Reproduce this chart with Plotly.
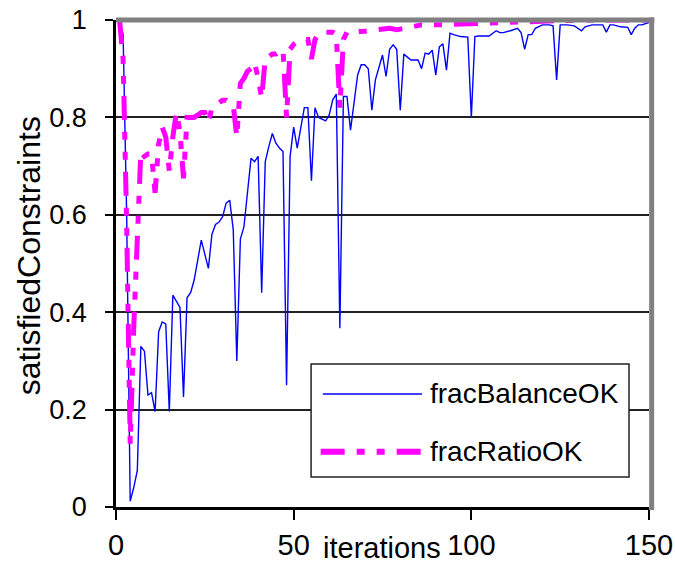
import plotly.graph_objects as go

# fracBalanceOK
bal_iter = [1,2,3,4,5,6,7,8,9,10,11,12,13,14,15,16,18,19,20,21,22,24,26,27,28,29,30,31,32,33,34,35,36,38,39,40,
            41,42,43,44,45,46,47,48,49,50,51,52,53,54,55,56,57,59,60,61,62,63,64,65,66,68,69,70,71,72,73,75,76,77,
            78,79,80,81,83,85,86,87,88,89,90,91,92,93,94,95,97,99,100,101,102,105,107,108,109,111,113,114,115,116,
            117,118,120,122,123,124,125,127,129,131,132,134,136,137,138,139,140,142,144,145,146,147,148,150]
bal_val = [1.0,0.97,0.6,0.012,0.04,0.075,0.33,0.32,0.23,0.235,0.196,0.36,0.38,0.376,0.196,0.435,0.41,0.226,0.43,0.44,
           0.466,0.548,0.49,0.56,0.58,0.585,0.596,0.624,0.63,0.569,0.30,0.55,0.575,0.716,0.709,0.72,
           0.44,0.709,0.74,0.767,0.747,0.737,0.73,0.25,0.72,0.78,0.737,0.778,0.82,0.82,0.67,0.82,0.80,0.793,0.805,0.836,
           0.848,0.367,0.843,0.843,0.774,0.887,0.908,0.908,0.90,0.815,0.877,0.928,0.884,0.94,
           0.949,0.94,0.815,0.93,0.918,0.918,0.90,0.932,0.93,0.938,0.887,0.945,0.951,0.897,0.973,0.97,0.966,0.965,0.80,0.966,0.967,
           0.967,0.978,0.974,0.974,0.978,0.983,0.974,0.94,0.97,
           0.97,0.983,0.99,0.99,0.988,0.877,0.99,0.99,0.988,0.978,0.986,0.99,0.99,0.99,0.975,0.99,0.99,0.986,0.985,0.97,0.983,0.99,0.99,0.995]

# fracRatioOK
rat_iter = [1,2,3,4,5,6,7,8,9,10,11,12,13,14,15,16,17,18,19,20,21,22,23,24,25,26,27,28,29,30,31,32,33,34,35,36,37,38,
            39,40,41,42,43,44,45,46,47,48,49,50,51,52,53,54,55,56,57,58,59,60,61,62,63,64,65,70,73,77,79,82,86,90,
            100,110,120,130,150]
rat_val = [1.0,0.92,0.58,0.13,0.37,0.55,0.73,0.72,0.725,0.725,0.645,0.745,0.78,0.76,0.69,0.76,0.81,0.77,0.675,0.8,
           0.8,0.8,0.805,0.81,0.81,0.79,0.82,0.825,0.83,0.835,0.835,0.83,0.825,0.76,0.87,0.88,0.895,0.9,
           0.913,0.88,0.84,0.92,0.925,0.93,0.93,0.935,0.94,0.8,0.94,0.95,0.955,0.96,0.96,0.96,0.92,0.96,0.97,0.975,
           0.975,0.975,0.975,0.97,0.82,0.96,0.975,0.977,0.98,0.983,0.98,0.985,0.99,0.99,
           0.993,0.995,0.997,1.0,1.0]

x_ticks = [0, 50, 100, 150]
x_tick_text = ["0", "50", "100", "150"]
y_ticks = [0, 0.2, 0.4, 0.6, 0.8, 1]
y_tick_text = ["0", "0.2", "0.4", "0.6", "0.8", "1"]
names = ["fracBalanceOK", "fracRatioOK"]

FONT = "Liberation Sans, Arial, sans-serif"
BLUE = "#0000ff"
MAG = "#ff00ff"
DASH = "24px,12px,8px,12px,8px,12px"

fig = go.Figure()
fig.add_trace(go.Scatter(x=bal_iter, y=bal_val, mode="lines", name=names[0],
                         line=dict(color=BLUE, width=1.4), showlegend=False))
fig.add_trace(go.Scatter(x=rat_iter, y=rat_val, mode="lines", name=names[1],
                         line=dict(color=MAG, width=5, dash=DASH), showlegend=False))

fig.update_layout(
    width=675, height=567,
    margin=dict(l=116, r=26, t=20, b=60),
    paper_bgcolor="white", plot_bgcolor="white",
    font=dict(family=FONT, color="black"),
    showlegend=False,
)
fig.update_xaxes(range=[0, 150], tickvals=x_ticks, ticktext=x_tick_text, automargin=False,
                 showgrid=False, zeroline=False, showline=True, linecolor="black", linewidth=3,
                 ticks="outside", ticklen=10, tickwidth=2, tickcolor="black",
                 tickfont=dict(size=29, family=FONT), ticklabelstandoff=0)
fig.update_yaxes(range=[0, 1], tickvals=y_ticks, ticktext=y_tick_text, automargin=False,
                 showgrid=True, gridcolor="#222", gridwidth=2, zeroline=False,
                 showline=True, linecolor="black", linewidth=2.5,
                 ticks="outside", ticklen=8, tickwidth=2, tickcolor="black",
                 tickfont=dict(size=27, family=FONT), ticklabelstandoff=13)

# frame: gray top and right border
fig.add_shape(type="line", xref="paper", yref="paper", x0=0, x1=1.01, y0=1, y1=1,
              line=dict(color="#808080", width=5), layer="above")
fig.add_shape(type="line", xref="paper", yref="paper", x0=1.005, x1=1.005, y0=-0.006, y1=1.005,
              line=dict(color="#808080", width=5), layer="above")

# legend
fig.add_shape(type="rect", xref="paper", yref="paper", x0=0.366, x1=0.9625, y0=0.0616, y1=0.2936,
              fillcolor="white", line=dict(color="#222", width=1.5), layer="above")
fig.add_shape(type="line", xref="paper", yref="paper", x0=0.388, x1=0.574, y0=0.232, y1=0.232,
              line=dict(color=BLUE, width=1.6), layer="above")
fig.add_shape(type="line", xref="paper", yref="paper", x0=0.384, x1=0.576, y0=0.1136, y1=0.1136,
              line=dict(color=MAG, width=6, dash=DASH), layer="above")
fig.add_annotation(x=0.585, y=0.234, xref="paper", yref="paper", text=names[0], showarrow=False,
                   xanchor="left", yanchor="middle", font=dict(size=28, family=FONT, color="black"))
fig.add_annotation(x=0.585, y=0.1136, xref="paper", yref="paper", text=names[1], showarrow=False,
                   xanchor="left", yanchor="middle", font=dict(size=28, family=FONT, color="black"))

# axis titles
fig.add_annotation(x=-0.163, y=0.515, xref="paper", yref="paper", text="satisfiedConstraints",
                   textangle=-90, showarrow=False, xanchor="center", yanchor="middle",
                   font=dict(size=32, family=FONT, color="black"))
fig.add_annotation(x=74.9, y=-0.084, xref="x", yref="paper", text="iterations",
                   showarrow=False, xanchor="center", yanchor="middle",
                   font=dict(size=29, family=FONT, color="black"))

fig.write_html("out.html")
